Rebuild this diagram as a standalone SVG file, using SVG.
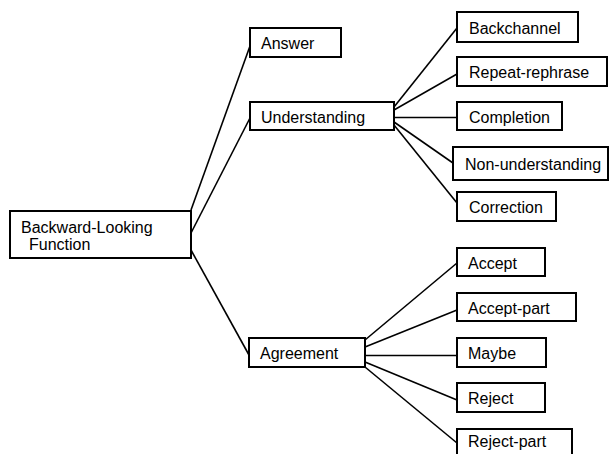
<svg xmlns="http://www.w3.org/2000/svg" width="609" height="454" viewBox="0 0 609 454">
<style>
.box{fill:#fff;stroke:#000;stroke-width:2}
.lbl{font-family:"Liberation Sans",Arial,sans-serif;font-size:16px;fill:#000}
.con line{stroke:#000;stroke-width:1.6}
</style>
<rect width="609" height="454" fill="#fff"/>
<g id="connectors" class="con">
<line x1="191" y1="210" x2="250" y2="46"/>
<line x1="191" y1="233" x2="250" y2="118"/>
<line x1="191" y1="250" x2="249" y2="355"/>
<line x1="394" y1="107" x2="457" y2="28"/>
<line x1="394" y1="110" x2="457" y2="74"/>
<line x1="394" y1="117.5" x2="457" y2="117.5"/>
<line x1="394" y1="122" x2="453" y2="163"/>
<line x1="394" y1="125" x2="457" y2="203"/>
<line x1="365" y1="340" x2="457" y2="263"/>
<line x1="365" y1="347" x2="457" y2="310"/>
<line x1="365" y1="355.5" x2="457" y2="355.5"/>
<line x1="365" y1="362" x2="457" y2="400"/>
<line x1="365" y1="367" x2="457" y2="443"/>
</g>
<g id="node-root"><rect class="box" x="10" y="211" width="181" height="47"/><text class="lbl" x="21" y="233">Backward-Looking</text><text class="lbl" x="29" y="250">Function</text></g>
<g id="node-answer"><rect class="box" x="250" y="28" width="91" height="29"/><text class="lbl" x="261" y="49">Answer</text></g>
<g id="node-understanding"><rect class="box" x="250" y="102" width="144" height="28"/><text class="lbl" x="261" y="122.5">Understanding</text></g>
<g id="node-agreement"><rect class="box" x="249" y="338" width="116" height="29"/><text class="lbl" x="260" y="359">Agreement</text></g>
<g id="node-backchannel"><rect class="box" x="457" y="12" width="121" height="30"/><text class="lbl" x="469" y="33.5">Backchannel</text></g>
<g id="node-repeat-rephrase"><rect class="box" x="457" y="57" width="150" height="29"/><text class="lbl" x="469" y="78">Repeat-rephrase</text></g>
<g id="node-completion"><rect class="box" x="457" y="102" width="105" height="28"/><text class="lbl" x="469" y="122.5">Completion</text></g>
<g id="node-non-understanding"><rect class="box" x="453" y="147" width="155" height="33"/><text class="lbl" x="465" y="170">Non-understanding</text></g>
<g id="node-correction"><rect class="box" x="457" y="192" width="99" height="29"/><text class="lbl" x="469" y="213">Correction</text></g>
<g id="node-accept"><rect class="box" x="457" y="248" width="88" height="28"/><text class="lbl" x="468" y="269">Accept</text></g>
<g id="node-accept-part"><rect class="box" x="457" y="293" width="119" height="28"/><text class="lbl" x="468" y="313.5">Accept-part</text></g>
<g id="node-maybe"><rect class="box" x="457" y="338" width="89" height="29"/><text class="lbl" x="468" y="359">Maybe</text></g>
<g id="node-reject"><rect class="box" x="457" y="383" width="88" height="29"/><text class="lbl" x="468" y="404">Reject</text></g>
<g id="node-reject-part"><rect class="box" x="457" y="429" width="115" height="30"/><text class="lbl" x="468" y="447">Reject-part</text></g>
</svg>
